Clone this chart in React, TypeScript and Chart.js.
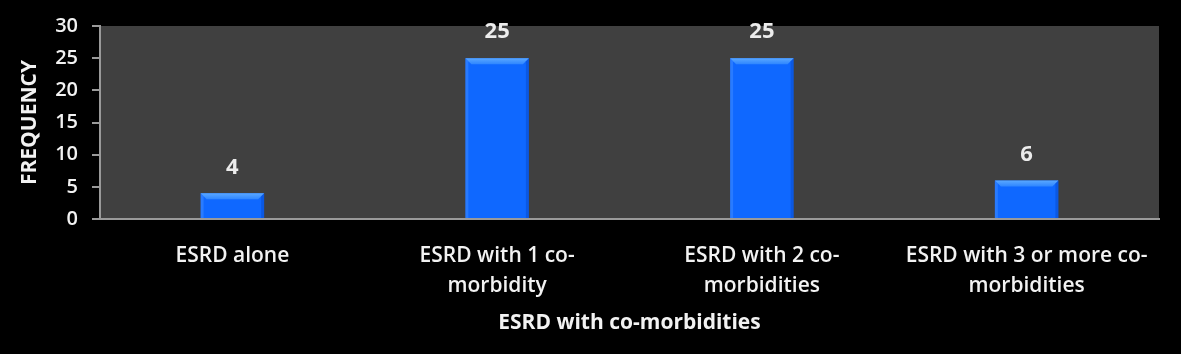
import React, { useEffect, useRef } from "react";
import { Chart, registerables } from "chart.js";

Chart.register(...registerables);

const categories: string[][] = [
  ["ESRD alone"],
  ["ESRD with 1 co-", "morbidity"],
  ["ESRD with 2 co-", "morbidities"],
  ["ESRD with 3 or more co-", "morbidities"],
];
const frequencies: number[] = [4, 25, 25, 6];
const yTicks: number[] = [0, 5, 10, 15, 20, 25, 30];
const xTitle = "ESRD with co-morbidities";
const yTitle = "FREQUENCY";

const FONT = "'Open Sans', Lato, sans-serif";

const plotBg = {
  id: "plotBg",
  beforeDraw(chart: any) {
    const { ctx, chartArea } = chart;
    ctx.save();
    ctx.fillStyle = "#000000";
    ctx.fillRect(0, 0, chart.width, chart.height);
    ctx.fillStyle = "#404040";
    ctx.fillRect(chartArea.left, chartArea.top, chartArea.right - chartArea.left, chartArea.bottom - chartArea.top);
    ctx.restore();
  },
};

const bevel = {
  id: "bevel",
  afterDatasetsDraw(chart: any) {
    const { ctx } = chart;
    const meta = chart.getDatasetMeta(0);
    ctx.save();
    meta.data.forEach((bar: any, i: number) => {
      const left = bar.x - bar.width / 2;
      const right = bar.x + bar.width / 2;
      const top = bar.y;
      const b = 6;
      const g = ctx.createLinearGradient(0, top, 0, top + b);
      g.addColorStop(0, "#5aa8ff");
      g.addColorStop(1, "#2f86ff");
      ctx.fillStyle = g;
      ctx.beginPath();
      ctx.moveTo(left, top);
      ctx.lineTo(right, top);
      ctx.lineTo(right - b, top + b);
      ctx.lineTo(left + b, top + b);
      ctx.closePath();
      ctx.fill();
      ctx.fillStyle = "rgba(120,180,255,0.25)";
      ctx.beginPath();
      ctx.moveTo(left, top);
      ctx.lineTo(left + 3, top + 3);
      ctx.lineTo(left + 3, bar.base);
      ctx.lineTo(left, bar.base);
      ctx.closePath();
      ctx.fill();
      ctx.fillStyle = "rgba(0,40,140,0.25)";
      ctx.beginPath();
      ctx.moveTo(right, top);
      ctx.lineTo(right - 3, top + 3);
      ctx.lineTo(right - 3, bar.base);
      ctx.lineTo(right, bar.base);
      ctx.closePath();
      ctx.fill();
      ctx.fillStyle = "#ececec";
      ctx.font = `bold 22px ${FONT}`;
      ctx.textAlign = "center";
      ctx.textBaseline = "middle";
      ctx.fillText(String(frequencies[i]), bar.x, top - 26);
    });
    ctx.restore();
  },
};

export default function App() {
  const ref = useRef<HTMLCanvasElement>(null);
  useEffect(() => {
    document.body.style.margin = "0";
    document.body.style.background = "#000";
    const canvas = ref.current!;
    const chart = new Chart(canvas, {
      type: "bar",
      data: {
        labels: categories,
        datasets: [
          {
            data: frequencies,
            backgroundColor: "#0f68ff",
            borderWidth: 0,
            barPercentage: 0.24,
            categoryPercentage: 1,
          },
        ],
      },
      options: {
        responsive: false,
        animation: false,
        devicePixelRatio: 1,
        layout: { padding: { top: 25, right: 22, left: 0, bottom: 0 } },
        plugins: { legend: { display: false }, tooltip: { enabled: false } },
        scales: {
          x: {
            grid: { display: false, drawTicks: false },
            border: { display: true, color: "#9a9a9a", width: 2 },
            ticks: {
              color: "#f2f2f2",
              font: { family: FONT, size: 21, weight: "600", lineHeight: 1.43 },
              padding: 22,
              maxRotation: 0,
              autoSkip: false,
            },
            title: {
              display: true,
              text: xTitle,
              color: "#f2f2f2",
              font: { family: FONT, size: 21, weight: "bold" },
              padding: { top: 0, bottom: 18 },
            },
            afterFit(scale: any) {
              scale.height = 135;
            },
          },
          y: {
            min: 0,
            max: 30,
            afterBuildTicks(scale: any) {
              scale.ticks = yTicks.map((v) => ({ value: v }));
            },
            grid: { drawOnChartArea: false, drawTicks: true, tickLength: 8, color: "#9a9a9a", lineWidth: 2 },
            border: { display: true, color: "#9a9a9a", width: 2 },
            ticks: {
              color: "#f2f2f2",
              font: { family: FONT, size: 20, weight: "600" },
              padding: 14,
            },
            title: {
              display: true,
              text: yTitle,
              color: "#f2f2f2",
              font: { family: FONT, size: 21, weight: "bold" },
              padding: { top: 17, bottom: 0 },
            },
            afterFit(scale: any) {
              scale.width = 100;
            },
          },
        },
      },
      plugins: [plotBg, bevel],
    });
    return () => chart.destroy();
  }, []);
  return <canvas ref={ref} width={1181} height={354} style={{ display: "block" }} />;
}
